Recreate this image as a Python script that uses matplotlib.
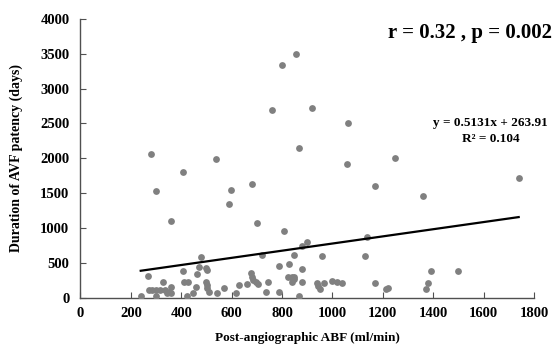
import numpy as np
import matplotlib.pyplot as plt

plt.rcParams['font.family'] = ['Liberation Serif', 'DejaVu Serif']
plt.rcParams['font.weight'] = 'bold'

# post-angiographic ABF (ml/min) vs duration of AVF patency (days)
abf = [279, 300, 358, 408, 539, 588, 599, 679, 699, 759, 798, 857, 868, 920,
       1059, 1060, 1169, 1250, 1359, 1739, 808,
       478, 719, 849, 878, 899, 960, 1129, 1139, 1390, 1499, 408, 470, 499,
       501, 461, 269, 677, 679, 789, 829, 878,
       239, 272, 285, 300, 316, 300, 329, 335, 342, 352, 359, 359, 411, 428,
       421, 447, 458, 498, 501, 503, 509, 540, 569, 617, 628, 659, 686, 696,
       703, 736, 745, 789, 825, 838, 849, 838, 849, 868, 878, 937, 944, 950,
       968, 999, 1019, 1039, 1169, 1211, 1220, 1380, 1370]
days = [2056, 1525, 1100, 1802, 1984, 1348, 1540, 1635, 1075, 2687, 3335,
        3490, 2146, 2715, 1912, 2505, 1600, 2007, 1458, 1720, 956,
        588, 607, 607, 740, 797, 600, 602, 866, 383, 383, 385, 435, 421,
        397, 336, 316, 350, 301, 457, 481, 407,
        29, 110, 110, 110, 110, 29, 220, 110, 63, 86, 158, 63, 220, 220,
        29, 63, 149, 220, 182, 135, 86, 63, 135, 63, 182, 192, 254, 220,
        192, 77, 220, 77, 301, 301, 301, 229, 263, 29, 230, 210, 172, 120,
        218, 239, 222, 215, 210, 130, 146, 206, 118]

slope = 0.5131
intercept = 263.91

fig = plt.figure(figsize=(5.54, 3.54), dpi=100)
ax = fig.add_axes([0.1453, 0.159, 0.8187, 0.788])

ax.scatter(abf, days, s=24, color='#808080', zorder=3, linewidths=0)
xl = np.array([min(abf), max(abf)])
ax.plot(xl, slope * xl + intercept, color='black', lw=1.6, zorder=4)

ax.set_xlim(0, 1800)
ax.set_ylim(0, 4000)
ax.set_xticks(np.arange(0, 1801, 200))
ax.set_yticks(np.arange(0, 4001, 500))
for s in ['top', 'right']:
    ax.spines[s].set_visible(False)
for s in ['left', 'bottom']:
    ax.spines[s].set_color('#505050')
    ax.spines[s].set_linewidth(1.0)
ax.tick_params(direction='in', length=4, color='#505050', labelsize=10.5)
ax.tick_params(axis='x', pad=7)
ax.tick_params(axis='y', pad=8)

ax.set_xlabel('Post-angiographic ABF (ml/min)', fontsize=9.5, fontweight='bold', labelpad=8)
ax.set_ylabel('Duration of AVF patency (days)', fontsize=10, fontweight='bold', labelpad=12)

fig.text(0.996, 0.906, 'r = 0.32 , p = 0.002', ha='right', va='center',
         fontsize=15, fontweight='bold')
fig.text(0.886, 0.652, 'y = 0.5131x + 263.91', ha='center', va='center',
         fontsize=9.5, fontweight='bold')
fig.text(0.886, 0.606, 'R² = 0.104', ha='center', va='center',
         fontsize=9.5, fontweight='bold')

fig.savefig('out.png', dpi=100)
